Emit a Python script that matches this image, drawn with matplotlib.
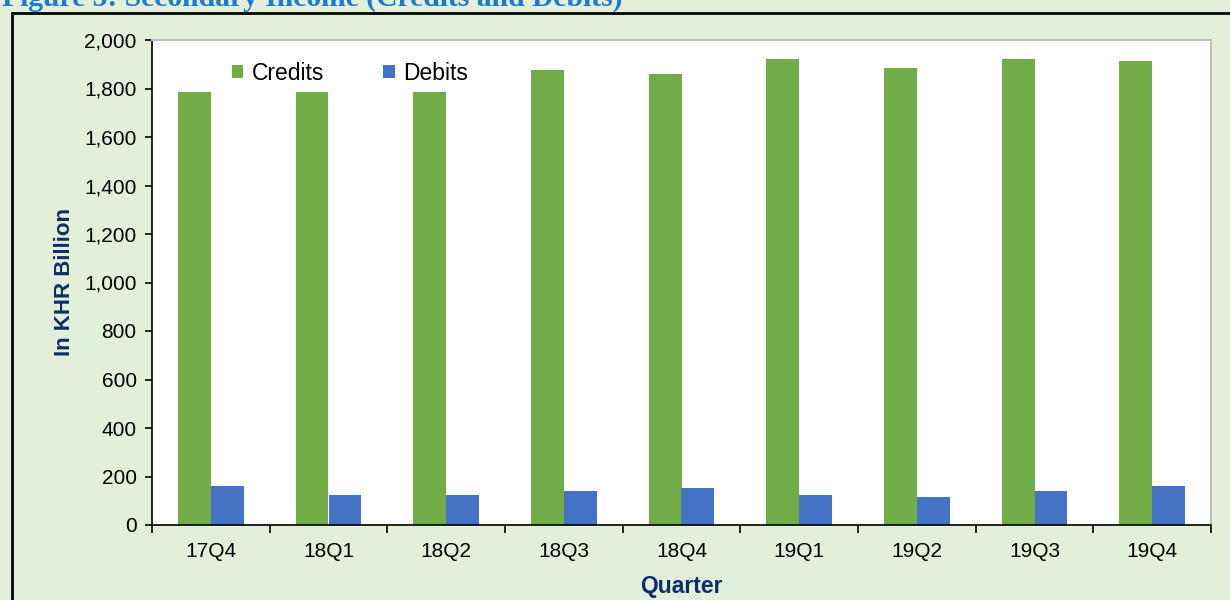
import numpy as np
import matplotlib.pyplot as plt
from matplotlib.patches import Rectangle
from matplotlib.ticker import FuncFormatter, FixedLocator

plt.rcParams['font.family'] = ['Liberation Sans', 'DejaVu Sans']

# Datos (miles de millones de KHR)
trimestres = ["17Q4", "18Q1", "18Q2", "18Q3", "18Q4", "19Q1", "19Q2", "19Q3", "19Q4"]
creditos = [1785, 1785, 1785, 1876, 1860, 1922, 1885, 1922, 1913]
debitos = [161, 124, 124, 140, 153, 124, 115, 140, 161]

verde = "#70ad47"
azul = "#4472c4"
fondo = "#e2efd9"
azul_oscuro = "#0d2d6b"

fig = plt.figure(figsize=(12.3, 6.0), dpi=100)
fig.patch.set_facecolor(fondo)

# Marco negro del cuadro (izquierda y arriba)
fig.add_artist(Rectangle((12 / 1230, -0.1), 1.2, 1 - 13 / 600 + 0.1, transform=fig.transFigure,
                         fill=False, edgecolor="black", linewidth=2))
# Titulo cortado arriba
fig.text(0.002, 1 - 6 / 600, "Figure 5: Secondary Income (Credits and Debits)", family="Liberation Serif",
         fontweight="bold", fontsize=21.3, color="#1a7bd0", va="baseline", ha="left")

ax = fig.add_axes([152 / 1230, 75 / 600, (1211 - 152) / 1230, (525 - 40) / 600])
ax.set_facecolor("white")

x = np.arange(len(trimestres))
ancho = 0.28
ax.bar(x - ancho / 2, creditos, ancho, color=verde, label="Credits")
ax.bar(x + ancho / 2, debitos, ancho, color=azul, label="Debits")

ax.set_xlim(-0.5, len(trimestres) - 0.5)
ax.set_ylim(0, 2000)
ax.set_yticks(np.arange(0, 2001, 200))
ax.yaxis.set_major_formatter(FuncFormatter(lambda v, p: f"{int(v):,}"))
ax.tick_params(axis="y", labelsize=15, direction="out", length=5, width=1.2, colors="black", pad=6)

ax.set_xticks(x)
ax.set_xticklabels(trimestres)
ax.xaxis.set_minor_locator(FixedLocator(np.arange(-0.5, len(trimestres), 1)))
ax.tick_params(axis="x", which="major", length=0, labelsize=15, pad=12)
ax.tick_params(axis="x", which="minor", direction="out", length=6, width=1.2)

for lado in ["top", "right"]:
    ax.spines[lado].set_color("#bfbfbf")
    ax.spines[lado].set_linewidth(1.5)
for lado in ["left", "bottom"]:
    ax.spines[lado].set_color("black")
    ax.spines[lado].set_linewidth(1.2)

ax.set_xlabel("Quarter", fontsize=16.5, fontweight="bold", color=azul_oscuro, labelpad=10)
ax.set_ylabel("In KHR Billion", fontsize=16, fontweight="bold", color=azul_oscuro, labelpad=7)

ax.legend(loc="upper left", bbox_to_anchor=(0.056, 0.998), ncol=2, frameon=False, fontsize=16.5,
          handlelength=0.5, handleheight=0.5, handletextpad=0.35, columnspacing=2.6)

fig.savefig("out.png", dpi=100, facecolor=fondo)
